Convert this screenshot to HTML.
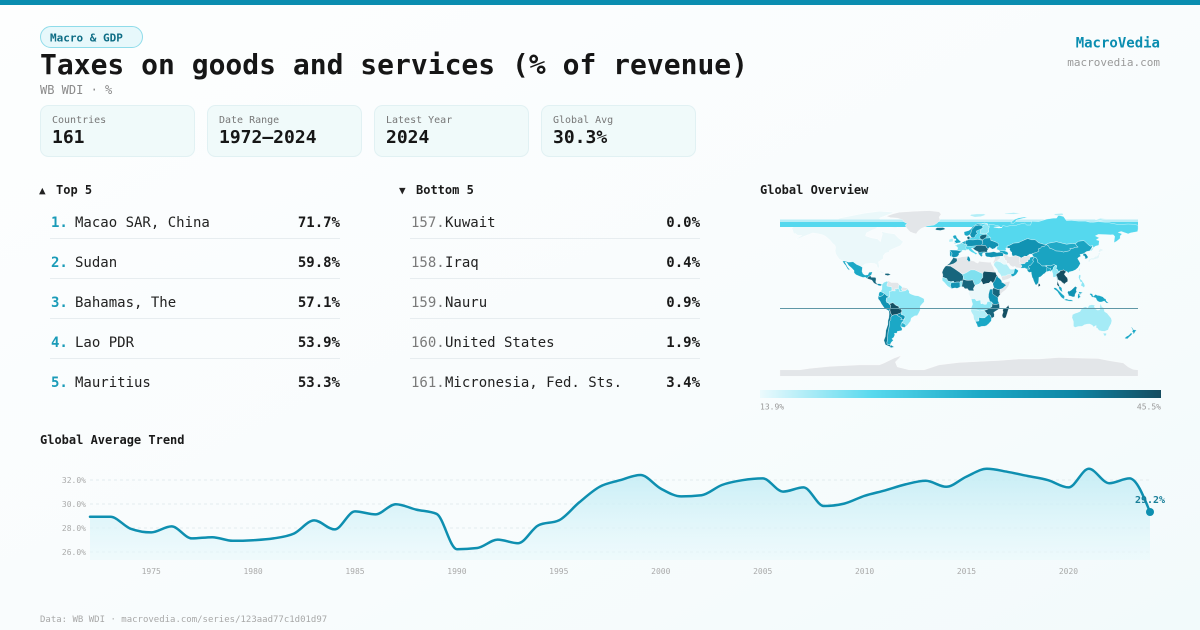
<!DOCTYPE html>
<html><head><meta charset="utf-8"><title>Taxes on goods and services (% of revenue)</title>
<style>
html,body{margin:0;padding:0;width:1200px;height:630px;overflow:hidden;background:#fafdfd;}
svg{display:block;}
text{font-family:"DejaVu Sans Mono","Liberation Mono",monospace;}
.g{fill:#e3e6e9}.l0{fill:#ebf8fa}.l1{fill:#b3eef7}.l2{fill:#8de6f4}.c{fill:#55d8ee}.m{fill:#1ba8c6}.t{fill:#1193b3}.d{fill:#17667d}.dd{fill:#134f63}.au{fill:#a5ebf6}
.map polygon{stroke:#ffffff;stroke-width:0.35;stroke-linejoin:round}
</style></head>
<body>
<svg width="1200" height="630" viewBox="0 0 1200 630" xmlns="http://www.w3.org/2000/svg">
<defs>
<linearGradient id="bg" x1="0" y1="0" x2="1" y2="1">
<stop offset="0" stop-color="#fdfefe"/><stop offset="0.6" stop-color="#f8fcfd"/><stop offset="1" stop-color="#f2fafb"/>
</linearGradient>
<linearGradient id="cb" x1="0" y1="0" x2="1" y2="0">
<stop offset="0" stop-color="#ecfafd"/><stop offset="0.28" stop-color="#58d9ee"/><stop offset="0.55" stop-color="#1ca9c6"/><stop offset="0.78" stop-color="#0e86a5"/><stop offset="1" stop-color="#154c60"/>
</linearGradient>
<linearGradient id="af" x1="0" y1="465" x2="0" y2="560" gradientUnits="userSpaceOnUse">
<stop offset="0" stop-color="#bfebf4" stop-opacity="0.9"/><stop offset="1" stop-color="#e9f9fc" stop-opacity="0.6"/>
</linearGradient>
</defs>
<rect x="0" y="0" width="1200" height="630" fill="url(#bg)"/>
<rect x="0" y="0" width="1200" height="5" fill="#0a8db0"/>

<!-- header -->
<rect x="40.5" y="26.5" width="102" height="21" rx="10.5" fill="#e7f8fb" stroke="#8fdcea" stroke-width="1"/>
<text x="50" y="41.5" font-size="11" font-weight="bold" fill="#0e6d85">Macro &amp; GDP</text>
<text x="40" y="74" font-size="28" font-weight="bold" fill="#161616">Taxes on goods and services (% of revenue)</text>
<text x="40" y="94" font-size="12" fill="#8a8a8a">WB WDI · %</text>
<text x="1160" y="47.5" font-size="14" font-weight="bold" fill="#0a8db0" text-anchor="end">MacroVedia</text>
<text x="1160" y="66" font-size="11" fill="#9a9a9a" text-anchor="end">macrovedia.com</text>

<!-- stat cards -->
<g fill="#f0fafa" stroke="#e1f1f3" stroke-width="1">
<rect x="40.5" y="105.5" width="154" height="51" rx="8"/>
<rect x="207.5" y="105.5" width="154" height="51" rx="8"/>
<rect x="374.5" y="105.5" width="154" height="51" rx="8"/>
<rect x="541.5" y="105.5" width="154" height="51" rx="8"/>
</g>
<g font-size="10" fill="#777">
<text x="52" y="123">Countries</text>
<text x="219" y="123">Date Range</text>
<text x="386" y="123">Latest Year</text>
<text x="553" y="123">Global Avg</text>
</g>
<g font-size="18" font-weight="bold" fill="#161616">
<text x="52" y="143">161</text>
<text x="219" y="143">1972–2024</text>
<text x="386" y="143">2024</text>
<text x="553" y="143">30.3%</text>
</g>

<!-- Top 5 -->
<text x="39" y="194" font-size="11" fill="#222">▲</text>
<text x="56" y="194" font-size="12" font-weight="bold" fill="#1a1a1a">Top 5</text>
<g stroke="#e7edf0" stroke-width="1">
<line x1="50" y1="238.5" x2="340" y2="238.5"/><line x1="50" y1="278.5" x2="340" y2="278.5"/><line x1="50" y1="318.5" x2="340" y2="318.5"/><line x1="50" y1="358.5" x2="340" y2="358.5"/>
<line x1="410" y1="238.5" x2="700" y2="238.5"/><line x1="410" y1="278.5" x2="700" y2="278.5"/><line x1="410" y1="318.5" x2="700" y2="318.5"/><line x1="410" y1="358.5" x2="700" y2="358.5"/>
</g>
<g font-size="14">
<g font-weight="bold" fill="#1a9bb8">
<text x="51" y="227">1.</text><text x="51" y="267">2.</text><text x="51" y="307">3.</text><text x="51" y="347">4.</text><text x="51" y="387">5.</text>
</g>
<g fill="#222">
<text x="75" y="227">Macao SAR, China</text><text x="75" y="267">Sudan</text><text x="75" y="307">Bahamas, The</text><text x="75" y="347">Lao PDR</text><text x="75" y="387">Mauritius</text>
</g>
<g font-weight="bold" fill="#1a1a1a" text-anchor="end">
<text x="340" y="227">71.7%</text><text x="340" y="267">59.8%</text><text x="340" y="307">57.1%</text><text x="340" y="347">53.9%</text><text x="340" y="387">53.3%</text>
</g>
</g>

<!-- Bottom 5 -->
<text x="399" y="194" font-size="11" fill="#222">▼</text>
<text x="416" y="194" font-size="12" font-weight="bold" fill="#1a1a1a">Bottom 5</text>
<g font-size="14">
<g fill="#7a7a7a">
<text x="411" y="227">157.</text><text x="411" y="267">158.</text><text x="411" y="307">159.</text><text x="411" y="347">160.</text><text x="411" y="387">161.</text>
</g>
<g fill="#222">
<text x="445" y="227">Kuwait</text><text x="445" y="267">Iraq</text><text x="445" y="307">Nauru</text><text x="445" y="347">United States</text><text x="445" y="387">Micronesia, Fed. Sts.</text>
</g>
<g font-weight="bold" fill="#1a1a1a" text-anchor="end">
<text x="700" y="227">0.0%</text><text x="700" y="267">0.4%</text><text x="700" y="307">0.9%</text><text x="700" y="347">1.9%</text><text x="700" y="387">3.4%</text>
</g>
</g>

<!-- Global Overview -->
<text x="760" y="194" font-size="12" font-weight="bold" fill="#1a1a1a">Global Overview</text>
<g class="map" transform="translate(959 293) scale(0.995 -0.985)">
<!-- North America -->
<polygon class="l0" points="-166,60 -168,66 -162,70 -156,71.3 -141,69.8 -128,70 -115,68.5 -100,68 -95,71 -85,69.5 -82,66 -87,64 -93,61 -94,58 -88,56 -82,55 -79,52 -78,56 -77,60 -78,62.5 -72,61 -65,60 -61,56 -56,52 -59,48 -66,45 -70,43 -70,41.5 -74,40.5 -76,38 -76,35 -81,31.5 -80,27 -80.5,25.2 -82,26 -83,29 -85,30 -89,30.2 -94,29.6 -97,27.5 -97,26 -99.5,27.5 -103,29 -106.5,31.7 -111,31.3 -114.8,32.5 -117.1,32.5 -120.5,34.5 -122.5,37.5 -124,40 -124.5,43 -124,46.5 -124.7,48.4 -127,50.5 -130,54 -134,57.5 -137,59 -141,60 -147,61 -152,59 -156,57.5 -158,56.5 -162,55 -164,54.7 -158,58.5 -162,58.6 -164.5,60.5"/>
<polygon class="l0" points="-125,71.5 -115,73 -105,73 -95,73 -85,73 -78,73 -80,76 -75,78 -65,82 -80,83 -95,81 -110,78 -120,76"/>
<polygon class="l0" points="-90,70 -80,69 -72,67 -62,66 -64,70 -72,72 -82,73.5 -90,72"/>
<polygon class="m" points="-117.1,32.5 -114.8,32.5 -111,31.3 -106.5,31.7 -103,29 -99.5,27.5 -97,26 -97.5,22 -96.5,19.5 -94.5,18.2 -91.5,18.5 -90.5,21 -87,21.5 -88,18.5 -89,17.8 -91.5,16 -92.2,14.5 -94,16 -96.5,15.7 -100,17 -103.5,18.5 -105.5,20.5 -105.5,22.8 -108,25.5 -111,28 -112.8,31 -114.7,31.5 -112,26.5 -110,24 -110.3,23 -112.2,24.8 -114,28 -115.7,30"/>
<polygon class="d" points="-92.2,14.5 -91.5,16 -89,17.8 -88.2,16 -84,15.8 -83.3,14.5 -83.7,11 -82.5,9.5 -82,8.2 -85.5,10 -87.5,13 -90,13.8"/>
<polygon class="t" points="-82.5,9.5 -79.5,9.4 -77.4,8.5 -78.5,7.2 -80.5,7.4 -82,8.2"/>
<polygon class="l0" points="-85,22 -82,23 -77,21.8 -74.2,20.2 -77.5,19.8 -80,21.8"/>
<polygon class="d" points="-74.4,19.8 -71,19.9 -68.4,18.6 -71.5,17.6 -74.4,18.3"/>
<!-- South America -->
<polygon class="l2" points="-77.4,8.5 -75.5,10.8 -72.3,12 -71.3,11 -72.5,8 -72,7 -67.5,6.2 -67.3,3.5 -67.5,2 -69.8,1.7 -69.5,-1 -70,-4.2 -73,-2.5 -75.3,-0.1 -78.8,1.4 -77.5,3.8 -77.4,6.8"/>
<polygon class="g" points="-72.3,12 -71,12.3 -68,10.6 -64,10.6 -61.5,10.5 -60,8.5 -61,6 -60.7,5 -62.8,4 -64.6,4.1 -64,2 -67,2.2 -67.5,2 -67.3,3.5 -67.5,6.2 -72,7 -72.5,8 -71.3,11"/>
<polygon class="l2" points="-60,8.5 -57,6 -57.8,3.5 -56.5,1.9 -59.7,1.5 -60.7,5 -61,6"/>
<polygon class="g" points="-57,6 -52,5 -51.6,4 -54,2.2 -56.5,1.9 -57.8,3.5"/>
<polygon class="m" points="-78.8,1.4 -75.3,-0.1 -75.5,-1.5 -78.3,-3.4 -80.2,-4 -80.9,-1.5 -80,0.9"/>
<polygon class="t" points="-80.9,-1.5 -80.2,-4 -78.3,-3.4 -75.5,-1.5 -75.3,-0.1 -73,-2.5 -70,-4.2 -72.8,-5 -73.3,-7.5 -72.4,-9.8 -70.6,-9.5 -70.6,-11 -68.7,-12.5 -69,-15 -69.5,-17.5 -70.4,-18.3 -75,-15.4 -78,-11 -79.5,-8 -81.2,-6 -81.2,-4.3"/>
<polygon class="l2" points="-70,-4.2 -69.5,-1 -69.8,1.7 -67.5,2 -67,2.2 -64,2 -64.6,4.1 -62.8,4 -60.7,5 -59.7,1.5 -56.5,1.9 -54,2.2 -51.6,4 -50,1.8 -50,0 -48.5,-1 -44.5,-2.5 -41,-2.9 -37,-4.8 -35,-6 -35,-9 -37,-11 -39,-13.5 -39,-17.5 -40.5,-20.5 -42,-23 -44.5,-23.2 -48,-25.5 -48.6,-28.5 -50.5,-31 -52.5,-33.5 -53.4,-33.7 -53.5,-32.5 -55.5,-30.8 -57.6,-30.2 -55.8,-28 -54.6,-25.6 -54.3,-24 -55.6,-22.6 -57.9,-22 -58,-20 -57.5,-18 -58.4,-16.3 -60.2,-16.2 -60.5,-13.7 -63.5,-12.5 -65.3,-10.9 -66.4,-9.8 -69.9,-11 -70.6,-11 -70.6,-9.5 -72.4,-9.8 -73.3,-7.5 -72.8,-5"/>
<polygon class="dd" points="-69.9,-11 -66.4,-9.8 -65.3,-10.9 -63.5,-12.5 -60.5,-13.7 -60.2,-16.2 -58.4,-16.3 -57.5,-18 -58,-20 -62.5,-21.8 -65,-22.1 -67.2,-22.8 -68.8,-20.5 -69.5,-17.5 -69,-15 -68.7,-12.5"/>
<polygon class="t" points="-62.5,-21.8 -58,-20 -57.9,-22 -55.6,-22.6 -54.3,-24 -54.6,-25.6 -55.8,-27.3 -58.6,-27.1 -57.5,-25.5 -60,-24 -62.3,-22.5"/>
<polygon fill="#0f7894" points="-70.4,-18.3 -69.5,-17.5 -68.8,-20.5 -67.2,-22.8 -68.4,-24.5 -68.5,-27 -69.6,-28.5 -70,-33 -70.5,-36 -71.2,-39 -71.7,-44 -72,-48 -72.5,-51 -71.5,-52.5 -68.5,-52.5 -69.5,-54.5 -74,-52.5 -75.5,-48 -74,-44 -73.5,-38 -72.5,-35 -71.5,-32 -71.4,-28 -70.5,-25 -70.2,-21.5"/>
<polygon class="m" points="-67.2,-22.8 -65,-22.1 -62.5,-21.8 -62.3,-22.5 -60,-24 -57.5,-25.5 -58.6,-27.1 -55.8,-27.3 -54.6,-25.6 -55.8,-28 -57.6,-30.2 -58.2,-32 -58.4,-34 -57,-36.5 -57.7,-38.2 -62,-39 -62.3,-40.7 -65,-41 -64.5,-42.5 -65.5,-45 -67.5,-46.5 -66,-48 -68,-50 -69,-52 -68.5,-52.5 -71.5,-52.5 -72.5,-51 -72,-48 -71.7,-44 -71.2,-39 -70.5,-36 -70,-33 -69.6,-28.5 -68.5,-27 -68.4,-24.5"/>
<polygon fill="#2ab4cf" points="-57.6,-30.2 -55.5,-30.8 -53.5,-32.5 -53.4,-33.7 -54.9,-35 -57,-34.5 -58.4,-34 -58.2,-32"/>
<polygon class="t" points="-68.5,-52.7 -65,-55 -68,-55.5 -70,-55 -68.6,-53.5"/>
<!-- Antarctica -->
<polygon class="g" points="-180,-78 -160,-78 -150,-76.5 -130,-74.5 -100,-73 -80,-73 -75,-71 -65,-66 -58,-63.5 -60,-66 -64,-70 -62,-75 -50,-78 -35,-78 -20,-73 0,-70.5 20,-69.5 40,-68.5 60,-67 80,-67 100,-65.5 120,-66 140,-66.5 150,-68.5 165,-71 170,-75 175,-77.5 180,-78 180,-84.5 -180,-84.5"/>
</g>
<!-- wrap band artifacts (Russia) -->
<rect x="780" y="219.5" width="358" height="2.5" fill="#b8edf6"/>
<rect x="780" y="222" width="358" height="5" fill="#55d8ee"/>
<g class="map" transform="translate(959 293) scale(0.995 -0.985)">
<polygon class="g" points="-73,78 -66,80.5 -60,82 -45,83 -30,83.6 -20,82.5 -18,80 -20,77 -19,74 -22,71 -25,69 -32,68 -38,65.5 -41,63 -43,60 -46,60.8 -49,62 -51,64 -53,66.5 -54,69 -52,70.5 -55,72 -57,74.5 -62,76 -69,76.5"/>
<polygon fill="#17708a" points="-24,64.9 -22,66.4 -16,66.5 -13.6,65.1 -15,64.3 -18.7,63.4 -22.5,63.8"/>
<!-- Europe base -->
<polygon class="c" points="-9.5,43 -9.3,38.7 -8.9,37 -6,36.2 -5.3,36 -2,36.7 -0.5,38.3 0.2,39.5 -0.3,40 1,41 3.2,42 3.1,43.3 4.5,43.5 6.6,43.1 7.5,43.8 9.5,44.3 10.5,43 12.5,41.5 15.5,40.1 16,38 15.6,39.8 17,39 18.5,40.2 16,41.5 13.5,44 12.3,45.2 13.7,45.6 14.5,45 16,43.5 19.4,41.8 19.5,40 21,38.3 22.5,36.5 23.2,37.9 24,38.3 23,39.5 24.5,40.8 26,40.8 26.5,41.5 28,41.3 29,41.1 28.5,43.5 29.6,45 30.8,46.5 33.5,44.5 36,45.3 37.5,47 39.7,47.5 40,49.6 38,51.3 35,52.5 32,53.5 31.8,56 28,59.5 28,61 30,62 29.5,64.5 30.5,67 28.5,69 29,70 26,71 23,70.5 18,70 14,67.5 12,65 10,63.5 5,62 5.5,59 7,58 8.5,58 11,59.3 11.5,58 12.5,56.2 10.5,56.5 8,56.8 8.5,55 9,54 8.5,53.5 7,53.4 4.5,52 3,51.3 1.6,51 1.4,50 -1,49.5 -1.5,49.7 -2,48.6 -4.5,48.5 -2.8,47.5 -2,47 -1.2,46 -1.5,44.5 -1.8,43.4 -3.8,43.5 -8,43.7"/>
<polygon class="t" points="-9.5,43 -9.3,42 -8.2,42 -7,40 -7.5,37.5 -6,36.2 -5.3,36 -2,36.7 -0.5,38.3 0.2,39.5 -0.3,40 1,41 3.2,42 1.5,42.6 -1.8,43.4 -3.8,43.5 -8,43.7"/>
<polygon class="m" points="-8.9,37 -7.5,37.5 -7,40 -8.2,42 -9.3,42 -9.3,38.7"/>
<polygon fill="#7fe0ef" points="-1.8,43.4 1.5,42.6 3.2,42 3.1,43.3 4.5,43.5 6.6,43.1 7.5,43.8 7,45.5 6.2,46.3 7.5,47.6 8.2,49 6.5,49.5 4.8,50 2.5,51.1 1.6,51 1.4,50 -1,49.5 -1.5,49.7 -2,48.6 -4.5,48.5 -2.8,47.5 -2,47 -1.2,46 -1.5,44.5"/>
<polygon class="t" points="6.5,49.5 8.2,49 7.5,47.6 10,47.5 13,47.5 17,48 19,48.5 22.5,48.5 24,50.5 23.5,53.5 19,54.4 14.2,53.9 11,54 9,54 8.5,53.5 7,53.4 6,51.8"/>
<polygon class="m" points="7,53.4 6,51.8 6.5,49.5 4.8,50 2.5,51.1 3,51.3 4.5,52"/>
<polygon class="d" points="8.5,55 8,56.8 10.5,57.7 10.5,56.5 12.5,56.2 11,55.5 9,54"/>
<polygon class="m" points="5,62 5.5,59 7,58 8.5,58 11,59.3 12,61 12.5,64 14,65.5 16,68 20,69 24,70.5 28.5,70.5 29,70 26,71 23,70.5 18,70 14,67.5 12,65 10,63.5"/>
<polygon class="t" points="11,59.3 11.5,58 12.5,56.2 14.5,56 16,57 17,59.3 19,60.5 17.5,61.5 17.5,63 21,64.5 24,66 23.5,68 20,69 16,68 14,65.5 12.5,64 12,61"/>
<polygon class="l2" points="21,60.5 25,60.2 28,60.5 28,61 30,62 29.5,64.5 30.5,67 28.5,69 28.5,70 26.5,69.5 24,68.5 24,66 21.5,64 21.5,62"/>
<polygon class="d" points="21,56 21,57.5 23,59 28,59.5 27.7,57.3 26.5,55.7 23.5,53.9 21.5,55"/>
<polygon class="t" points="23.5,53.9 26.5,55.7 31,56 31.8,56 32,53.5 35,52.5 38,51.3 40,49.6 39.7,47.5 37.5,47 36,45.3 33.5,44.5 30.8,46.5 29.6,45 28.2,45.5 26.5,48.3 24,48 22.5,48.5 24,50.5"/>
<polygon class="d" points="13.7,45.6 16,46.5 17,48 19,48.5 22.5,48.5 24,48 26.5,48.3 28.2,45.5 29.6,45 28.5,43.5 28,41.3 26.5,41.5 26,40.8 24.5,40.8 23,39.5 24,38.3 23.2,37.9 22.5,36.5 21,38.3 19.5,40 19.4,41.8 16,43.5 14.5,45"/>
<polygon class="m" points="19.5,40 21,38.3 22.5,36.5 23.2,37.9 24,38.3 23,39.5 24.5,40.8 26,40.8 26.3,41.7 22,41.5 20.5,41"/>
<polygon class="m" points="-5.7,50 1.4,51.2 1.7,52.7 0.2,53.5 -0.5,54.5 -2,55.9 -3,58.6 -5,58.6 -6.2,57.5 -5.6,56 -5,55 -3.2,54.8 -3,53.4 -4.6,53.3 -4.2,52.3 -5.2,51.7 -3.2,51.4"/>
<polygon class="l1" points="-10,51.6 -6,52.1 -6,53.8 -5.9,55.2 -7.5,55.3 -10,54.2"/>
<!-- Russia -->
<polygon class="c" points="28,59.5 31.8,56 32,53.5 35,52.5 38,51.3 40,49.6 39.7,47.5 37.5,47 38.5,46 37.5,44.5 40,43.4 46,42.7 47.5,43.5 47,45.5 49,46.5 48,47.5 50,48 55,50.6 60,51 61.5,52 69,55.3 73,54 76.5,54 80,51 85,49.5 87.5,49.2 90,50.5 98,52 102,51 108,49.5 114,50.2 117,50 120,52.5 125.5,53.2 130,49 132,47.5 134.5,48 135,45 133,43 131.3,42.7 134,45 137,47.5 140.5,48.5 141,53 138,54 141,56 137,58 140,59.5 148,59.3 152,59 155,59.2 156.5,57.5 155.7,51 158.5,52.5 162,55.5 162,58 164,60 160,61.5 163,62.5 170,60 172.5,61 179.5,62.3 180,65 180,68.8 175,69.8 170,70 160,69.5 150,71.5 140,72.5 133,71.5 127,73 120,73 113,73.7 108,73.5 105,77.7 100,79 98,76 95,76 88,75 85,74 80,72.5 73,72.8 72,69 68,69 66,71 60,69.7 57,68.5 53,68.7 48,67.6 44,68.5 43,66.3 40,66 35,66.8 38,67.2 41,67.5 40,68 34,69.5 30,69.8 30.5,67 29.5,64.5 30,62 28,61"/>
<polygon class="c" points="52,71 55,70.8 57,72.5 57.5,74 63,75.5 69,76.7 66,77.2 60,76.3 56,74.8 53,72.5"/>
<polygon class="l1" points="11,78.5 16,77 22,77.5 27,79.3 25,80.3 18,80.3 12,79.7"/>
<polygon class="l1" points="45,80.2 55,80 63,80.8 55,81.7 47,81"/>
<polygon class="l1" points="95,79 100,78.5 105,79 104,81 97,80.5"/>
<polygon class="l1" points="137,74.5 142,73.8 149,75.2 142,75.8"/>
<!-- Middle East / Central Asia -->
<polygon class="t" points="26.2,40 26,41 28,41.3 29,41.1 31,41.2 35,42 38,41 41.5,41.5 43.5,41.1 44.8,39.7 44.3,37.2 42,37.2 38,36.8 36,36 35.8,36.7 32.5,36.1 30.5,36.5 28,36.7 26.5,38"/>
<polygon class="m" points="41.5,41.5 43.5,41.1 44.8,39.7 46.5,38.9 48.8,38.5 49.5,40.3 48.5,41.8 46,42.7 40,43.4"/>
<polygon class="t" points="47,45.5 49,46.5 48,47.5 50,48 55,50.6 60,51 61.5,52 69,55.3 73,54 76.5,54 80,51 85,49.5 87.5,49.2 85.5,47 83,47 82,45.5 80,45 80.3,42.5 78,41 74.5,40.3 73,39.5 71,39.5 69,38 68,37.2 66,37.4 62.5,35.5 60.9,36.6 57,38 54,37.3 53,39.5 53,41.5 52,42 50.7,44.5 51.3,45.3 49.5,45.4"/>
<polygon class="g" points="44.8,39.7 46.5,38.9 48.8,38.5 49,37.5 51,36.8 54,37.3 57,38 60.9,36.6 61.2,35.5 60.5,33.5 60.8,31.4 61.8,30.8 61.5,29.5 62.8,28.3 63.2,26.8 61.7,25.2 57.3,25.7 56.3,27.2 54.7,26.5 53.5,26.8 51.5,27.9 50.1,30.2 48.6,30 48,30.9 47.5,33 46,33.6 45.4,35.9 44.3,37.2"/>
<polygon class="l0" points="42,37.2 44.3,37.2 45.4,35.9 46,33.6 47.5,33 48,30.9 48.6,30 47.7,29.4 46.5,29.1 44.7,29.2 42,31.2 39.2,32.2 38.8,33.4 41,34.4 41.4,36.5"/>
<polygon class="g" points="36,36 36.5,36.7 38,36.8 42,37.2 41.4,36.5 41,34.4 38.8,33.4 39.2,32.2 37,32.3 35,29.5 34.3,31.3 35.5,33.5 35.9,35"/>
<polygon class="l1" points="35,29.5 37,32.3 39.2,32.2 42,31.2 44.7,29.2 46.5,29.1 47.7,29.4 48.4,28.5 50,26.5 50.8,25 51.6,24.2 54,24.1 56,24.5 56.4,26.2 57.2,23.9 59.8,22.5 58.5,20.4 57.5,18.9 55,17 52.2,15.6 49,14 45,12.8 43.5,12.7 42.7,15.7 42.3,17.5 40.8,19.8 39.1,21.3 38.5,23.6 36.7,25.9 35.1,28.1"/>
<polygon class="g" points="43.5,12.7 45,12.8 49,14 52.2,15.6 53.1,16.7 52,19 49,18.6 46.5,17.3 43.8,17.3 43.2,16.7 42.7,15.7"/>
<polygon class="m" points="55,17 57.5,18.9 58.5,20.4 59.8,22.5 58.6,23.6 56.4,24.9 56,24.5 55.5,22.5 55,20 52,19 53.1,16.7"/>
<polygon class="g" points="60.9,36.6 62.5,35.5 66,37.4 68,37.2 69,38 71,38.3 71.5,36.7 74.5,37 71.2,36 71,34 69.5,33.9 69.3,31.9 66.9,31.3 66.3,29.9 62.5,29.4 60.9,29.8 61.8,30.8 60.8,31.4 60.5,33.5 61.2,35.5"/>
<polygon class="m" points="60.9,29.8 62.5,29.4 66.3,29.9 66.9,31.3 69.3,31.9 69.5,33.9 71,34 71.2,36 74.5,37 75.5,36.5 74.5,34.5 74,33.2 75,32.5 74.5,31.2 71.8,28 70.6,27.8 69.5,26.5 70.6,25.6 71,24.3 68.8,24.3 67.2,24.7 66.4,25.4 64.5,25.2 61.7,25.2 63.2,26.8 62.8,28.3"/>
<polygon fill="#129ab8" points="68.8,24.3 71,24.3 70.6,25.6 69.5,26.5 70.6,27.8 71.8,28 74.5,31.2 75,32.5 74,33.2 74.5,34.5 75.5,36.5 78,35.5 79,33 79.2,31 81,30 83.3,27.5 86,27.5 88.2,26.7 88,27.9 89,28 92,27.5 95.4,29 97,28.2 96,27.3 95,26 94.5,24 93,22.5 92.3,21.5 91.5,22.5 90.5,22.2 89,21.8 88,21.7 87,21 86.5,20 85,19.3 82.2,16.6 80.3,15.9 80.2,13.8 79.8,10.3 77.5,8 76.6,8.9 74.9,12.7 74.4,14.6 73.5,16 72.8,19.2 72.6,21.3 70.5,20.8 69.2,22.1 68.2,23.6"/>
<polygon class="m" points="88,21.7 89,21.8 90.5,22.2 91.5,22.5 92.3,21.5 92.6,23 91.8,24.5 92.4,25 89.9,25.3 88.5,26.4 88.1,25"/>
<polygon class="dd" points="79.8,6.2 81.8,7.5 81.2,9.3 80,9.8 79.7,8"/>
<polygon fill="#1aa4c2" points="73.5,39.5 75,40.4 77.5,41 80.3,42.5 80,45 82,45.5 83,47 85.5,47 87.5,49.2 90,47.8 91,45.5 95,44.3 97,42.8 101.8,42.5 105,41.6 110.4,42.8 111.8,43.7 111.4,45.2 114.5,45.4 116.7,46.4 119.7,46.7 118,48 117,50 120,52.5 125.5,53.2 130,49 132,47.5 134.5,48 133,45 131.3,42.7 130,42.5 128,42 125,39.8 122,39.2 121.5,38.9 122.5,37.4 120,36 119.2,35 121,32 122,30 121,28 119.6,25.7 117,23.5 114.2,22.2 110.8,21.4 110,20.2 108.5,21.8 106.6,22.3 105.3,23.4 103,22.8 101.7,22.4 101.2,21.3 99.5,22.2 98.7,24 97.5,24 98.2,27.7 97,28.2 95.4,29 92,27.5 89,28 88,27.9 86,27.5 83.3,27.5 81,30 79.2,31 79,33 78,35.5 75.5,36.5 74.5,37 73.8,38.5"/>
<polygon fill="#21aac7" points="87.5,49.2 90,50.5 98,52 102,51 108,49.5 114,50.2 117,50 118,48 119.7,46.7 116.7,46.4 114.5,45.4 111.4,45.2 111.8,43.7 110.4,42.8 105,41.6 101.8,42.5 97,42.8 95,44.3 91,45.5 90,47.8"/>
<polygon class="t" points="124.5,38 126,37.7 126.8,36 126.3,34.6 128.5,35 129.4,35.5 129.5,37 128.4,38.6 127.5,39.8 125,40.4"/>
<polygon fill="#e4f6f9" points="130,31.3 131.4,31.4 132,33.2 133,33.9 135,33.6 136.8,34.3 139.8,35 140.9,36.5 141,38.3 141.9,39.9 141.4,41.3 140,40.5 139.9,38.6 138.5,37.3 136.8,37.2 135.5,35.6 133,35.5 131,34.4 129.8,33.4"/>
<polygon fill="#e4f6f9" points="140,41.5 141.3,41.4 143.9,42.9 145.5,43.3 144.9,44 142,45.4 141.5,44.5 140.4,43.3"/>
<polygon class="l1" points="120.2,22.6 121,21.9 121.9,24.9 121.5,25.3 120.7,24.5"/>
<!-- SE Asia -->
<polygon class="l2" points="92.6,23 93.5,22 94.3,19.4 94.4,16.5 95.4,15.8 97.5,16.6 98.3,14.5 98.5,12 98.7,10.4 99.2,12.8 99.1,14.5 98.4,16.8 97.5,18.3 98.7,19.8 100.1,20.4 101.2,21.3 101.7,22.4 99.5,22.2 98.7,24 97.5,24 98.2,27.7 97,28.2 96,27.3 95,26 94.5,24 93,22.5"/>
<polygon class="dd" points="100.1,20.4 101.2,21.3 101.7,22.4 103,22.8 105.3,23.4 106.6,22.3 108,21.5 106.7,20.6 105.8,19 107.4,16.8 108.9,15.3 109.3,13.5 109.2,11.6 107.2,10.4 105.5,8.8 104.8,10.2 103.5,10.6 102.5,12.2 100.8,12.6 100.2,13.5 99.2,12.8 99.5,10.8 100.5,8.3 101.1,6.9 100.3,6.6 99.7,7 98.5,8.4 98.7,10.4 99.2,12.8 99.1,14.5 98.4,16.8 97.5,18.3 98.7,19.8"/>
<polygon class="m" points="100.3,6.6 101.1,6.9 102.1,6.2 103.4,4.9 103.5,2.8 104.2,1.6 103.4,1.3 101.4,2.8 100.5,4.5 100.1,6.3"/>
<polygon class="m" points="95.3,5.5 97.5,5.2 100.6,2.1 103.8,-1.1 106.1,-3.1 105.9,-5.9 104.7,-5.9 102.6,-4.2 100.1,-0.6 98.6,1.8 95.4,4"/>
<polygon class="m" points="105.4,-6.9 108,-6 110.5,-6.9 112.6,-6.9 114.5,-7.8 114.2,-8.5 110.6,-8.2 106.4,-7.4"/>
<polygon class="t" points="109.6,2 111,1.8 113,3.1 115.5,5.4 117,6.9 117.7,6 119,5.4 118,4.3 117.9,1.8 119,0.9 117.8,0.8 116.6,-1.5 116.5,-3.6 114.6,-4.1 111.7,-3 110.2,-2.9 110,-1.6 109,0.4"/>
<polygon class="m" points="119.5,-5.4 120.4,-5.6 121.5,-4.2 122.7,-4.5 121.2,-2.7 121.3,-1.9 123.2,-0.9 121.5,-0.9 120.2,0.2 120.9,1.3 124.4,0.4 125.2,1.4 124.1,0.1 120.9,-1.4 119.8,-0.1 119.3,-3.4"/>
<polygon class="l2" points="120.8,18.5 122.2,18.5 122.2,16.3 121.7,14.3 124.1,12.5 124.3,11.2 125.6,10 126.5,7.7 126.2,6.3 125.3,5.6 123.9,6.9 122.3,7.5 122.9,9 123.5,10.8 122,11.2 121,13.6 120.6,14.5 120.1,16 120.4,17.5"/>
<polygon class="m" points="131,-1 132.4,-0.4 134,-0.9 134.9,-3.4 137.4,-1.4 139,-2.4 141,-2.6 144.6,-3.9 146,-5.5 147.6,-6.1 147.9,-8 149.6,-9.5 150.8,-10.3 148.2,-10.2 146,-8.1 143.3,-9.1 142.1,-9.2 141,-9.1 139.1,-8.1 138,-6.3 137.6,-5.1 135.5,-4.4 133.4,-4 132.8,-2.6"/>
<polygon class="au" points="114,-22 113.5,-25 115,-29 115,-33.7 116.7,-35 119.9,-34 123.6,-33.9 126,-32.3 129,-31.6 131.3,-31.5 134,-32.8 135.2,-34.5 137.8,-32.9 137.8,-35.6 139,-35.7 140.6,-38 143.6,-38.8 146.3,-39 150,-37.4 150.7,-35.2 153,-31 153.6,-28.2 153,-25.6 150.5,-22.6 148.8,-20.4 146.4,-19 145.4,-15 143.6,-14 142.5,-10.7 141.5,-13.4 141.6,-17 139.3,-17.4 136.8,-15.9 135.9,-13.3 136.9,-12.4 133.5,-11.8 130.6,-12.5 129.4,-15 127.1,-13.8 125.1,-14.6 122.6,-16.8 121.7,-18.7 119,-19.9 116.7,-20.6"/>
<polygon class="au" points="144.7,-40.7 148.3,-40.9 148,-43.2 146,-43.6"/>
<polygon class="m" points="172.6,-34.5 174.3,-35.3 175.3,-37.2 178.5,-37.7 177.2,-39.1 176,-41.3 174.6,-41.3 175.2,-40.2 174,-39.3 174.6,-38 174.2,-36.5"/>
<polygon class="m" points="172.8,-40.5 174.2,-41.3 173.3,-42.7 171.2,-44.5 169.3,-46.6 166.7,-46.2 166.6,-45.7 168.3,-44.1 170.6,-42.9 172,-41.4"/>
<!-- Africa -->
<polygon class="g" points="-17,21 -17,14.7 -16.7,12.4 -15,11 -13.7,9.5 -11.4,6.8 -7.5,4.4 -4,5.2 -2,4.7 1,6 2.7,6.3 4.3,6.3 6,4.3 8.5,4.5 9.5,3 9.8,1 9.3,-0.5 11,-3.9 12,-5.8 13,-9 13.7,-11.3 11.7,-16.5 12.2,-19 13.3,-20.9 14.4,-22.7 14.7,-25.4 15.2,-27.1 16.3,-28.6 17.4,-30.7 18.2,-32.4 18.5,-34 20,-34.8 22.6,-33.9 25.8,-33.7 27.5,-33.2 30,-31.1 31.5,-29.3 32.5,-28.3 32.6,-26 32.8,-25.7 35.4,-24.1 35.5,-21.5 34.8,-19.8 36.3,-18.7 39.5,-16.7 40.8,-14.7 40.5,-10.8 39.3,-8 39.2,-4.7 40.3,-2.6 41.6,-1.7 43.1,0.3 46.6,2.9 49.7,6.8 51.1,10.6 51,12 47.5,11.1 44.1,10.4 43.1,11.5 42.7,12.6 41.2,14.5 39.3,15.9 38.4,18 37.5,18.6 36.9,21 35.5,23.1 34.6,26 33.1,28.4 32.4,29.9 32.3,31.3 29.7,31.2 25.2,31.6 20.1,32.2 19.1,30.3 16.6,31.2 15.2,32.3 11.5,33.1 10.9,35.7 9.5,37.3 6.3,37.1 3.2,36.8 -0.1,35.9 -2.2,35.2 -5.9,35.8 -6.8,34.1 -9.6,30.1 -9.8,29.9 -13.1,27.6 -14.4,26.3 -16,23.7"/>
<polygon fill="#1b6f86" points="-13.1,27.6 -9.8,29.9 -9.6,30.1 -6.8,34.1 -5.9,35.8 -2.2,35.2 -1.8,32.5 -3.7,30.8 -5.5,29.7 -8.7,28.7"/>
<polygon class="t" points="8.4,36.9 9.5,37.3 10.9,35.7 11.5,33.1 10,31.5 9.2,32.6 7.8,34.1 8.4,35.5"/>
<polygon class="d" points="-17,21 -16,23.7 -14.4,26.3 -13.1,27.6 -8.7,27.3 -4.9,24.9 1.2,20.6 3.3,19 4.3,16.9 4.2,14 3.6,11.7 1.9,12.4 0.9,11 -0.3,11.1 -2.9,11 -5.2,10.4 -5.5,12 -8.1,11.4 -11.5,12.3 -12.2,14.5 -16.5,16.1 -16.1,18.2"/>
<polygon fill="#7fe0ef" points="4.3,16.9 3.3,19 1.2,20.6 4.3,19.2 7.5,20.7 11.9,23.5 15.8,23.4 24,19.5 24,15.7 22.4,14 22,12.7 22.9,11.4 21.7,10.6 20.1,9 16.3,7.8 15.3,9.2 14.2,12.2 13.5,13.4 12.2,13 9,12.8 6.8,13.1 4.2,14"/>
<polygon class="dd" points="24,19.5 24,20 25,22 36.9,21 37.5,18.6 38.4,18 36.4,14.4 36.2,13 34,10 32,12 30,10 27,9.5 24,8.5 23.5,10 22.9,11.4 22,12.7 22.4,14 24,15.7"/>
<polygon class="t" points="36.4,14.4 38.4,18 39.3,15.9 41.2,14.5 42.7,12.6 43.1,11.5 42.8,11 44.1,10.4 47.5,8 44,4.9 41.9,3.9 39.5,3.4 36,4.5 35,5.5 34,8.5 34,10 36.2,13"/>
<polygon class="l2" points="-16.7,12.4 -17,14.7 -16.5,16.1 -12.2,14.5 -11.5,12.3 -8.1,11.4 -5.5,12 -5.2,10.4 -2.9,11 -0.3,11.1 0.9,11 1.9,12.4 3.6,11.7 2.7,6.3 1,6 -2,4.7 -4,5.2 -7.5,4.4 -11.4,6.8 -13.7,9.5 -15,11"/>
<polygon class="t" points="-8,10.3 -2.9,11 -0.3,11.1 0.9,11 1,6 -2,4.7 -4,5.2 -7.5,4.4 -8.5,7.5"/>
<polygon class="d" points="2.7,6.3 3.6,11.7 4.2,14 6.8,13.1 9,12.8 12.2,13 13.5,13.4 14.2,12.2 15.3,9.2 16.3,7.8 14.5,4.5 15.2,2 11.3,2.2 9.8,2.4 9.5,3 8.5,4.5 6,4.3 4.3,6.3"/>
<polygon class="l0" points="9.8,2.4 11.3,2.2 15.2,2 14.5,4.5 16.3,7.8 20.1,9 21.7,10.6 22.9,11.4 23.5,10 24,8.5 27,9.5 30,10 32,12 34,10 34,8.5 35,5.5 33.9,4 31,3.8 29.7,-1.2 29.6,-4.5 30.2,-6 31,-8.7 28.6,-8.5 27.4,-11.6 25,-11.5 23.9,-10.6 22.1,-11 21.8,-9.5 21.7,-7.1 17.5,-8 16,-5.9 12.3,-6 11,-3.9 9.3,-0.5 9.8,1"/>
<polygon class="t" points="33.9,4 35,5.5 36,4.5 39.5,3.4 41.9,3.9 41,3 41,-0.9 41.6,-1.7 40.3,-2.6 39.2,-4.7 39.3,-8 40.5,-10.8 37.5,-11.6 34.6,-11.5 32.8,-9.2 31,-8.7 30.2,-6 29.6,-4.5 29.7,-1.2 31,3.8"/>
<polygon class="d" points="33.9,4 35,5.5 36,4.5 39.5,3.4 41.9,3.9 41,3 41,-0.9 41.6,-1.7 40.3,-2.6 39.2,-4.7 37.7,-3.7 33.9,-1 34,1"/>
<polygon class="l2" points="12.3,-6 16,-5.9 17.5,-8 21.7,-7.1 21.8,-9.5 22.1,-11 23.9,-10.6 25,-11.5 27.4,-11.6 28.6,-8.5 31,-8.7 32.8,-9.2 33.5,-10.5 33,-14 30.3,-15.5 28,-16.9 25.3,-17.8 23.2,-17.6 20.9,-18.3 18.3,-17.3 13.9,-17 11.7,-16.5 13.7,-11.3 13,-9"/>
<polygon class="d" points="32.8,-9.2 34.6,-11.5 37.5,-11.6 40.5,-10.8 40.8,-14.7 39.5,-16.7 36.3,-18.7 34.8,-19.8 35.5,-21.5 35.4,-24.1 32.8,-25.7 32,-24 31.2,-22.3 29.4,-22.1 28,-21.5 27.7,-20.5 25.3,-17.8 28,-16.9 30.3,-15.5 33,-14 33.5,-10.5"/>
<polygon class="l1" points="11.7,-16.5 13.9,-17 18.3,-17.3 20.9,-18.3 23.2,-17.6 25.3,-17.8 27.7,-20.5 28,-21.5 29.4,-22.1 27,-24.2 25.8,-25.2 23,-25.3 20,-24.8 20,-28.4 17.4,-28.8 16.3,-28.6 15.2,-27.1 14.7,-25.4 14.4,-22.7 13.3,-20.9 12.2,-19"/>
<polygon class="m" points="16.3,-28.6 17.4,-28.8 20,-28.4 20,-24.8 23,-25.3 25.8,-25.2 27,-24.2 29.4,-22.1 31.2,-22.3 32,-24 32.8,-25.7 32.6,-26 32.5,-28.3 31.5,-29.3 30,-31.1 27.5,-33.2 25.8,-33.7 22.6,-33.9 20,-34.8 18.5,-34 18.2,-32.4 17.4,-30.7"/>
<polygon class="dd" points="44,-25 45.5,-25.6 47.1,-24.9 48.5,-20.5 49.5,-17 50.5,-15.2 49.5,-12 48.8,-13.4 47.7,-14.6 46.3,-15.8 44.4,-16.2 43.9,-17.4 44.4,-19.4 43.7,-21.3 43.3,-22.8"/>
</g>
<line x1="780" y1="308.5" x2="1138" y2="308.5" stroke="#5f97a6" stroke-width="1"/>
<rect x="760" y="390" width="401" height="8" fill="url(#cb)"/>
<text x="760" y="409.5" font-size="8" fill="#999">13.9%</text>
<text x="1161" y="409.5" font-size="8" fill="#999" text-anchor="end">45.5%</text>

<!-- Trend chart -->
<text x="40" y="444" font-size="12" font-weight="bold" fill="#1a1a1a">Global Average Trend</text>
<g stroke="#e3ecee" stroke-width="1" stroke-dasharray="3 3">
<line x1="90" y1="480" x2="1150" y2="480"/><line x1="90" y1="504" x2="1150" y2="504"/><line x1="90" y1="528" x2="1150" y2="528"/><line x1="90" y1="552" x2="1150" y2="552"/>
</g>
<g font-size="8" fill="#aaa" text-anchor="end">
<text x="86" y="483">32.0%</text><text x="86" y="507">30.0%</text><text x="86" y="531">28.0%</text><text x="86" y="555">26.0%</text>
</g>
<g font-size="8" fill="#aaa" text-anchor="middle">
<text x="151.2" y="574">1975</text><text x="253.1" y="574">1980</text><text x="355" y="574">1985</text><text x="456.9" y="574">1990</text><text x="558.8" y="574">1995</text><text x="660.8" y="574">2000</text><text x="762.7" y="574">2005</text><text x="864.6" y="574">2010</text><text x="966.5" y="574">2015</text><text x="1068.5" y="574">2020</text>
</g>
<path id="ar" fill="url(#af)" stroke="none" d="M90,516.8 L110.4,516.8 130.8,528.8 151.2,532.4 171.5,526.4 191.9,538.4 212.3,537.2 232.7,540.8 253.1,540.2 273.5,538.4 293.9,533.6 314.2,520.4 334.6,529.4 355,511.4 375.4,514.4 395.8,504.2 416.2,509.6 436.5,513.8 456.9,549.2 477.3,548 497.7,539.6 518.1,543.2 538.5,525.2 558.8,520.4 579.2,502.4 599.6,486.8 620,480.2 640.4,475 660.8,488.6 681.2,496.4 701.5,495.2 721.9,485 742.3,480.2 762.7,478.4 783.1,491.6 803.5,487.4 823.8,506 844.2,503.6 864.6,495.8 885,490.4 905.4,484.4 925.8,480.8 946.2,486.8 966.5,476.6 986.9,468.8 1007.3,471.8 1027.7,476 1048.1,480.2 1068.5,487.4 1088.8,468.8 1109.2,483.2 1129.6,478.4 1150,512 L1150,560 L90,560 Z"/>
<path id="ln" fill="none" stroke="#0e8fb0" stroke-width="2.5" stroke-linejoin="round" stroke-linecap="round" d="M90,516.8 L110.4,516.8 130.8,528.8 151.2,532.4 171.5,526.4 191.9,538.4 212.3,537.2 232.7,540.8 253.1,540.2 273.5,538.4 293.9,533.6 314.2,520.4 334.6,529.4 355,511.4 375.4,514.4 395.8,504.2 416.2,509.6 436.5,513.8 456.9,549.2 477.3,548 497.7,539.6 518.1,543.2 538.5,525.2 558.8,520.4 579.2,502.4 599.6,486.8 620,480.2 640.4,475 660.8,488.6 681.2,496.4 701.5,495.2 721.9,485 742.3,480.2 762.7,478.4 783.1,491.6 803.5,487.4 823.8,506 844.2,503.6 864.6,495.8 885,490.4 905.4,484.4 925.8,480.8 946.2,486.8 966.5,476.6 986.9,468.8 1007.3,471.8 1027.7,476 1048.1,480.2 1068.5,487.4 1088.8,468.8 1109.2,483.2 1129.6,478.4 1150,512"/>
<circle cx="1150" cy="512" r="4" fill="#0e8fb0"/>
<text x="1150" y="503" font-size="10" font-weight="bold" fill="#1a7f99" text-anchor="middle">29.2%</text>

<text x="40" y="622" font-size="9" fill="#a8a8a8">Data: WB WDI · macrovedia.com/series/123aad77c1d01d97</text>
</svg>
<script>
(function(){
var Y=[516.8,516.8,528.8,532.4,526.4,538.4,537.2,540.8,540.2,538.4,533.6,520.4,529.4,511.4,514.4,504.2,509.6,513.8,549.2,548,539.6,543.2,525.2,520.4,502.4,486.8,480.2,475,488.6,496.4,495.2,485,480.2,478.4,491.6,487.4,506,503.6,495.8,490.4,484.4,480.8,486.8,476.6,468.8,471.8,476,480.2,487.4,468.8,483.2,478.4,512];
var n=Y.length,X=[],t=[],i;
for(i=0;i<n;i++)X.push(90+i*1060/52);
function sg(v){return v<0?-1:1;}
for(i=1;i<n-1;i++){var h0=X[i]-X[i-1],h1=X[i+1]-X[i],s0=(Y[i]-Y[i-1])/h0,s1=(Y[i+1]-Y[i])/h1,p=(s0*h1+s1*h0)/(h0+h1);t[i]=(sg(s0)+sg(s1))*Math.min(Math.abs(s0),Math.abs(s1),0.5*Math.abs(p))||0;}
t[0]=(3*(Y[1]-Y[0])/(X[1]-X[0])-t[1])/2;
t[n-1]=(3*(Y[n-1]-Y[n-2])/(X[n-1]-X[n-2])-t[n-2])/2;
var d="M"+X[0].toFixed(1)+","+Y[0].toFixed(1);
for(i=0;i<n-1;i++){var dx=(X[i+1]-X[i])/3;d+=" C"+(X[i]+dx).toFixed(1)+","+(Y[i]+dx*t[i]).toFixed(1)+" "+(X[i+1]-dx).toFixed(1)+","+(Y[i+1]-dx*t[i+1]).toFixed(1)+" "+X[i+1].toFixed(1)+","+Y[i+1].toFixed(1);}
document.getElementById("ln").setAttribute("d",d);
document.getElementById("ar").setAttribute("d",d+" L1150,560 L90,560 Z");
})();
</script>
</body></html>
